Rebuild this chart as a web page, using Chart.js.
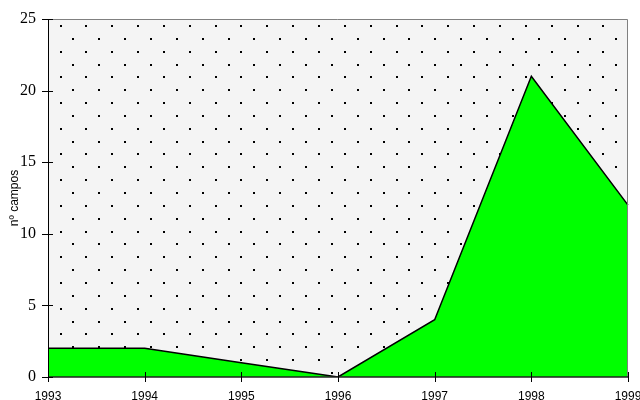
<!DOCTYPE html>
<html>
<head>
<meta charset="utf-8">
<script src="https://cdn.jsdelivr.net/npm/chart.js@4"></script>
<style>
html,body{margin:0;padding:0;overflow:hidden;background:#fff;width:640px;height:400px;}
canvas{display:block;}
</style>
</head>
<body>
<canvas id="c" width="641" height="406"></canvas>
<script>
const years = ['1993','1994','1995','1996','1997','1998','1999'];
const campos = [2, 2, 1, 0, 4, 21, 12];
const yTicks = [0, 5, 10, 15, 20, 25];
const yTitle = 'nº campos';

const frame = {
  id: 'frame',
  beforeDatasetsDraw(chart) {
    const {ctx, chartArea: a} = chart;
    ctx.save();
    ctx.fillStyle = '#f4f4f4';
    ctx.fillRect(a.left, a.top, a.right - a.left, a.bottom - a.top);
    ctx.fillStyle = '#000';
    const dx = 25.85, dy = 12.85;
    let row = 0;
    for (let y = a.top + 6; y < a.bottom - 2; y += dy, row++) {
      const start = a.left + 11.5 + (row % 2 ? dx / 2 : 0);
      for (let x = start; x < a.right - 2; x += dx) {
        ctx.fillRect(Math.round(x), Math.round(y), 2, 2);
      }
    }
    ctx.restore();
  },
  afterDraw(chart) {
    const {ctx, chartArea: a, scales} = chart;
    ctx.save();
    ctx.strokeStyle = '#808080';
    ctx.lineWidth = 1;
    ctx.beginPath();
    ctx.moveTo(a.left, a.top + 0.5);
    ctx.lineTo(a.right - 0.5, a.top + 0.5);
    ctx.lineTo(a.right - 0.5, a.bottom);
    ctx.stroke();
    ctx.strokeStyle = '#000';
    ctx.beginPath();
    ctx.moveTo(a.left + 0.5, a.top);
    ctx.lineTo(a.left + 0.5, a.bottom);
    ctx.stroke();
    ctx.strokeStyle = '#222';
    ctx.lineWidth = 1.5;
    ctx.beginPath();
    ctx.moveTo(a.left, a.bottom);
    ctx.lineTo(a.right, a.bottom);
    ctx.stroke();
    ctx.strokeStyle = '#000';
    ctx.lineWidth = 1;
    ctx.beginPath();
    yTicks.forEach(v => {
      const y = Math.round(scales.y.getPixelForValue(v)) + 0.5;
      ctx.moveTo(a.left - 6, y);
      ctx.lineTo(a.left + 5, y);
    });
    years.forEach((c, i) => {
      const x = Math.round(scales.x.getPixelForValue(i)) + 0.5;
      ctx.moveTo(x, a.bottom - 5);
      ctx.lineTo(x, a.bottom + 5);
    });
    ctx.stroke();
    ctx.fillStyle = '#000';
    ctx.font = '12px "Liberation Sans", Arial, sans-serif';
    ctx.textAlign = 'center';
    ctx.textBaseline = 'middle';
    ctx.translate(15, (a.top + a.bottom) / 2);
    ctx.rotate(-Math.PI / 2);
    ctx.fillText(yTitle, 0, 0);
    ctx.restore();
  }
};

new Chart(document.getElementById('c'), {
  type: 'line',
  data: {
    labels: years,
    datasets: [{
      data: campos,
      borderColor: '#000',
      borderWidth: 1.5,
      backgroundColor: '#00ff00',
      fill: 'origin',
      tension: 0,
      pointRadius: 0,
      pointHoverRadius: 0
    }]
  },
  options: {
    responsive: false,
    animation: false,
    events: [],
    layout: { padding: { top: 19, left: 20, right: 0, bottom: 0 } },
    plugins: { legend: { display: false }, tooltip: { enabled: false } },
    scales: {
      x: {
        type: 'category',
        offset: false,
        grid: { display: false, drawTicks: false },
        border: { display: false },
        afterFit(s) { s.height = 29; s.paddingLeft = 0; s.paddingRight = 13; s.paddingTop = 0; s.paddingBottom = 0; },
        ticks: {
          color: '#000',
          font: { family: '"Liberation Sans", Arial, sans-serif', size: 12 },
          padding: 12,
          maxRotation: 0,
          autoSkip: false
        }
      },
      y: {
        min: 0,
        max: 25,
        grid: { display: false, drawTicks: false },
        border: { display: false },
        afterBuildTicks(scale) { scale.ticks = yTicks.map(v => ({ value: v })); },
        afterFit(s) { s.width = 28; s.paddingTop = 0; s.paddingBottom = 0; s.paddingLeft = 0; s.paddingRight = 0; },
        ticks: {
          color: '#000',
          font: { family: '"Liberation Serif", "Times New Roman", serif', size: 16 },
          padding: 12
        }
      }
    }
  },
  plugins: [frame]
});
</script>
</body>
</html>
